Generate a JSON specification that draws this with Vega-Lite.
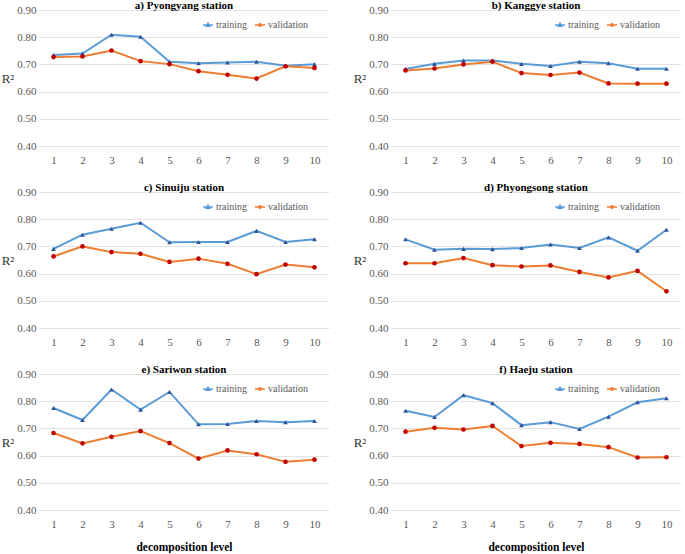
{
  "$schema": "https://vega.github.io/schema/vega-lite/v6.json",
  "padding": {"left": 1, "top": 0, "right": 1, "bottom": 0},
  "background": "white",
  "datasets": {
    "d": [
      {"st":"a","l":1,"training":0.735,"validation":0.727},
      {"st":"a","l":2,"training":0.740,"validation":0.729},
      {"st":"a","l":3,"training":0.809,"validation":0.751},
      {"st":"a","l":4,"training":0.802,"validation":0.712},
      {"st":"a","l":5,"training":0.710,"validation":0.701},
      {"st":"a","l":6,"training":0.704,"validation":0.675},
      {"st":"a","l":7,"training":0.707,"validation":0.662},
      {"st":"a","l":8,"training":0.710,"validation":0.648},
      {"st":"a","l":9,"training":0.695,"validation":0.693},
      {"st":"a","l":10,"training":0.701,"validation":0.687},
      {"st":"b","l":1,"training":0.683,"validation":0.678},
      {"st":"b","l":2,"training":0.702,"validation":0.685},
      {"st":"b","l":3,"training":0.714,"validation":0.700},
      {"st":"b","l":4,"training":0.714,"validation":0.710},
      {"st":"b","l":5,"training":0.702,"validation":0.668},
      {"st":"b","l":6,"training":0.694,"validation":0.661},
      {"st":"b","l":7,"training":0.710,"validation":0.670},
      {"st":"b","l":8,"training":0.704,"validation":0.630},
      {"st":"b","l":9,"training":0.684,"validation":0.629},
      {"st":"b","l":10,"training":0.684,"validation":0.629},
      {"st":"c","l":1,"training":0.691,"validation":0.663},
      {"st":"c","l":2,"training":0.743,"validation":0.700},
      {"st":"c","l":3,"training":0.765,"validation":0.679},
      {"st":"c","l":4,"training":0.787,"validation":0.673},
      {"st":"c","l":5,"training":0.715,"validation":0.643},
      {"st":"c","l":6,"training":0.716,"validation":0.655},
      {"st":"c","l":7,"training":0.716,"validation":0.636},
      {"st":"c","l":8,"training":0.757,"validation":0.598},
      {"st":"c","l":9,"training":0.716,"validation":0.633},
      {"st":"c","l":10,"training":0.726,"validation":0.623},
      {"st":"d","l":1,"training":0.726,"validation":0.638},
      {"st":"d","l":2,"training":0.688,"validation":0.638},
      {"st":"d","l":3,"training":0.691,"validation":0.657},
      {"st":"d","l":4,"training":0.690,"validation":0.631},
      {"st":"d","l":5,"training":0.694,"validation":0.626},
      {"st":"d","l":6,"training":0.707,"validation":0.630},
      {"st":"d","l":7,"training":0.694,"validation":0.606},
      {"st":"d","l":8,"training":0.733,"validation":0.586},
      {"st":"d","l":9,"training":0.684,"validation":0.610},
      {"st":"d","l":10,"training":0.761,"validation":0.535},
      {"st":"e","l":1,"training":0.775,"validation":0.683},
      {"st":"e","l":2,"training":0.731,"validation":0.645},
      {"st":"e","l":3,"training":0.843,"validation":0.669},
      {"st":"e","l":4,"training":0.769,"validation":0.690},
      {"st":"e","l":5,"training":0.834,"validation":0.646},
      {"st":"e","l":6,"training":0.715,"validation":0.589},
      {"st":"e","l":7,"training":0.716,"validation":0.619},
      {"st":"e","l":8,"training":0.727,"validation":0.605},
      {"st":"e","l":9,"training":0.723,"validation":0.577},
      {"st":"e","l":10,"training":0.727,"validation":0.585},
      {"st":"f","l":1,"training":0.765,"validation":0.688},
      {"st":"f","l":2,"training":0.742,"validation":0.702},
      {"st":"f","l":3,"training":0.822,"validation":0.696},
      {"st":"f","l":4,"training":0.793,"validation":0.709},
      {"st":"f","l":5,"training":0.712,"validation":0.635},
      {"st":"f","l":6,"training":0.723,"validation":0.647},
      {"st":"f","l":7,"training":0.698,"validation":0.643},
      {"st":"f","l":8,"training":0.743,"validation":0.631},
      {"st":"f","l":9,"training":0.796,"validation":0.593},
      {"st":"f","l":10,"training":0.811,"validation":0.594}
    ]
  },
  "data": {"name": "d"},
  "transform": [{"fold": ["training", "validation"], "as": ["s", "r2"]}],
  "columns": 2,
  "spacing": {"row": 17, "column": 24},
  "resolve": {"scale": {"color": "independent"}, "legend": {"color": "independent"}},
  "concat": [
    {
      "title": "a) Pyongyang station",
      "width": 290, "height": 136,
      "transform": [{"filter": "datum.st === 'a'"}],
      "encoding": {
        "x": {"field": "l", "type": "ordinal", "scale": {"padding": 0.5}, "axis": {"title": null}},
        "y": {"field": "r2", "type": "quantitative", "scale": {"domain": [0.4, 0.9], "nice": false, "zero": false}, "axis": {"title": "R²", "values": [0.4, 0.5, 0.6, 0.7, 0.8, 0.9], "format": ".2f"}}
      },
      "layer": [
        {"mark": {"type": "line", "strokeWidth": 2}, "encoding": {"color": {"field": "s", "type": "nominal", "scale": {"domain": ["training", "validation"], "range": ["#5B9BD5", "#ED7D31"]}, "legend": {"orient": "none", "legendX": 163, "legendY": 9, "direction": "horizontal", "title": null, "labelFont": "Liberation Serif", "labelFontSize": 10, "labelColor": "#595959", "symbolSize": 100, "labelOffset": 2, "columnPadding": 4, "encode": {"symbols": {"update": {"shape": {"signal": "datum.value === 'training' ? 'M-1,0H1M0,-0.36L0.36,0.26H-0.36Z' : 'M-1,0H1M0.25,0A0.25,0.25 0 1 1 -0.25,0A0.25,0.25 0 1 1 0.25,0Z'"}, "fill": {"signal": "datum.value === 'training' ? '#2F5597' : '#C00000'"}, "stroke": {"signal": "datum.value === 'training' ? '#5B9BD5' : '#ED7D31'"}, "strokeWidth": {"value": 1.5}, "size": {"value": 100}, "opacity": {"value": 1}}}}}}}},
        {"transform": [{"filter": "datum.s === 'training'"}], "mark": {"type": "point", "filled": true, "size": 22, "opacity": 1, "shape": "triangle-up", "color": "#2F5597"}},
        {"transform": [{"filter": "datum.s === 'validation'"}], "mark": {"type": "point", "filled": true, "size": 22, "opacity": 1, "shape": "circle", "color": "#C00000"}}
      ]
    },
    {
      "title": "b) Kanggye station",
      "width": 290, "height": 136,
      "transform": [{"filter": "datum.st === 'b'"}],
      "encoding": {
        "x": {"field": "l", "type": "ordinal", "scale": {"padding": 0.5}, "axis": {"title": null}},
        "y": {"field": "r2", "type": "quantitative", "scale": {"domain": [0.4, 0.9], "nice": false, "zero": false}, "axis": {"title": "R²", "values": [0.4, 0.5, 0.6, 0.7, 0.8, 0.9], "format": ".2f"}}
      },
      "layer": [
        {"mark": {"type": "line", "strokeWidth": 2}, "encoding": {"color": {"field": "s", "type": "nominal", "scale": {"domain": ["training", "validation"], "range": ["#5B9BD5", "#ED7D31"]}, "legend": {"orient": "none", "legendX": 163, "legendY": 9, "direction": "horizontal", "title": null, "labelFont": "Liberation Serif", "labelFontSize": 10, "labelColor": "#595959", "symbolSize": 100, "labelOffset": 2, "columnPadding": 4, "encode": {"symbols": {"update": {"shape": {"signal": "datum.value === 'training' ? 'M-1,0H1M0,-0.36L0.36,0.26H-0.36Z' : 'M-1,0H1M0.25,0A0.25,0.25 0 1 1 -0.25,0A0.25,0.25 0 1 1 0.25,0Z'"}, "fill": {"signal": "datum.value === 'training' ? '#2F5597' : '#C00000'"}, "stroke": {"signal": "datum.value === 'training' ? '#5B9BD5' : '#ED7D31'"}, "strokeWidth": {"value": 1.5}, "size": {"value": 100}, "opacity": {"value": 1}}}}}}}},
        {"transform": [{"filter": "datum.s === 'training'"}], "mark": {"type": "point", "filled": true, "size": 22, "opacity": 1, "shape": "triangle-up", "color": "#2F5597"}},
        {"transform": [{"filter": "datum.s === 'validation'"}], "mark": {"type": "point", "filled": true, "size": 22, "opacity": 1, "shape": "circle", "color": "#C00000"}}
      ]
    },
    {
      "title": "c) Sinuiju station",
      "width": 290, "height": 136,
      "transform": [{"filter": "datum.st === 'c'"}],
      "encoding": {
        "x": {"field": "l", "type": "ordinal", "scale": {"padding": 0.5}, "axis": {"title": null}},
        "y": {"field": "r2", "type": "quantitative", "scale": {"domain": [0.4, 0.9], "nice": false, "zero": false}, "axis": {"title": "R²", "values": [0.4, 0.5, 0.6, 0.7, 0.8, 0.9], "format": ".2f"}}
      },
      "layer": [
        {"mark": {"type": "line", "strokeWidth": 2}, "encoding": {"color": {"field": "s", "type": "nominal", "scale": {"domain": ["training", "validation"], "range": ["#5B9BD5", "#ED7D31"]}, "legend": {"orient": "none", "legendX": 163, "legendY": 9, "direction": "horizontal", "title": null, "labelFont": "Liberation Serif", "labelFontSize": 10, "labelColor": "#595959", "symbolSize": 100, "labelOffset": 2, "columnPadding": 4, "encode": {"symbols": {"update": {"shape": {"signal": "datum.value === 'training' ? 'M-1,0H1M0,-0.36L0.36,0.26H-0.36Z' : 'M-1,0H1M0.25,0A0.25,0.25 0 1 1 -0.25,0A0.25,0.25 0 1 1 0.25,0Z'"}, "fill": {"signal": "datum.value === 'training' ? '#2F5597' : '#C00000'"}, "stroke": {"signal": "datum.value === 'training' ? '#5B9BD5' : '#ED7D31'"}, "strokeWidth": {"value": 1.5}, "size": {"value": 100}, "opacity": {"value": 1}}}}}}}},
        {"transform": [{"filter": "datum.s === 'training'"}], "mark": {"type": "point", "filled": true, "size": 22, "opacity": 1, "shape": "triangle-up", "color": "#2F5597"}},
        {"transform": [{"filter": "datum.s === 'validation'"}], "mark": {"type": "point", "filled": true, "size": 22, "opacity": 1, "shape": "circle", "color": "#C00000"}}
      ]
    },
    {
      "title": "d) Phyongsong station",
      "width": 290, "height": 136,
      "transform": [{"filter": "datum.st === 'd'"}],
      "encoding": {
        "x": {"field": "l", "type": "ordinal", "scale": {"padding": 0.5}, "axis": {"title": null}},
        "y": {"field": "r2", "type": "quantitative", "scale": {"domain": [0.4, 0.9], "nice": false, "zero": false}, "axis": {"title": "R²", "values": [0.4, 0.5, 0.6, 0.7, 0.8, 0.9], "format": ".2f"}}
      },
      "layer": [
        {"mark": {"type": "line", "strokeWidth": 2}, "encoding": {"color": {"field": "s", "type": "nominal", "scale": {"domain": ["training", "validation"], "range": ["#5B9BD5", "#ED7D31"]}, "legend": {"orient": "none", "legendX": 163, "legendY": 9, "direction": "horizontal", "title": null, "labelFont": "Liberation Serif", "labelFontSize": 10, "labelColor": "#595959", "symbolSize": 100, "labelOffset": 2, "columnPadding": 4, "encode": {"symbols": {"update": {"shape": {"signal": "datum.value === 'training' ? 'M-1,0H1M0,-0.36L0.36,0.26H-0.36Z' : 'M-1,0H1M0.25,0A0.25,0.25 0 1 1 -0.25,0A0.25,0.25 0 1 1 0.25,0Z'"}, "fill": {"signal": "datum.value === 'training' ? '#2F5597' : '#C00000'"}, "stroke": {"signal": "datum.value === 'training' ? '#5B9BD5' : '#ED7D31'"}, "strokeWidth": {"value": 1.5}, "size": {"value": 100}, "opacity": {"value": 1}}}}}}}},
        {"transform": [{"filter": "datum.s === 'training'"}], "mark": {"type": "point", "filled": true, "size": 22, "opacity": 1, "shape": "triangle-up", "color": "#2F5597"}},
        {"transform": [{"filter": "datum.s === 'validation'"}], "mark": {"type": "point", "filled": true, "size": 22, "opacity": 1, "shape": "circle", "color": "#C00000"}}
      ]
    },
    {
      "title": "e) Sariwon station",
      "width": 290, "height": 136,
      "transform": [{"filter": "datum.st === 'e'"}],
      "encoding": {
        "x": {"field": "l", "type": "ordinal", "scale": {"padding": 0.5}, "axis": {"title": "decomposition level"}},
        "y": {"field": "r2", "type": "quantitative", "scale": {"domain": [0.4, 0.9], "nice": false, "zero": false}, "axis": {"title": "R²", "values": [0.4, 0.5, 0.6, 0.7, 0.8, 0.9], "format": ".2f"}}
      },
      "layer": [
        {"mark": {"type": "line", "strokeWidth": 2}, "encoding": {"color": {"field": "s", "type": "nominal", "scale": {"domain": ["training", "validation"], "range": ["#5B9BD5", "#ED7D31"]}, "legend": {"orient": "none", "legendX": 163, "legendY": 9, "direction": "horizontal", "title": null, "labelFont": "Liberation Serif", "labelFontSize": 10, "labelColor": "#595959", "symbolSize": 100, "labelOffset": 2, "columnPadding": 4, "encode": {"symbols": {"update": {"shape": {"signal": "datum.value === 'training' ? 'M-1,0H1M0,-0.36L0.36,0.26H-0.36Z' : 'M-1,0H1M0.25,0A0.25,0.25 0 1 1 -0.25,0A0.25,0.25 0 1 1 0.25,0Z'"}, "fill": {"signal": "datum.value === 'training' ? '#2F5597' : '#C00000'"}, "stroke": {"signal": "datum.value === 'training' ? '#5B9BD5' : '#ED7D31'"}, "strokeWidth": {"value": 1.5}, "size": {"value": 100}, "opacity": {"value": 1}}}}}}}},
        {"transform": [{"filter": "datum.s === 'training'"}], "mark": {"type": "point", "filled": true, "size": 22, "opacity": 1, "shape": "triangle-up", "color": "#2F5597"}},
        {"transform": [{"filter": "datum.s === 'validation'"}], "mark": {"type": "point", "filled": true, "size": 22, "opacity": 1, "shape": "circle", "color": "#C00000"}}
      ]
    },
    {
      "title": "f) Haeju station",
      "width": 290, "height": 136,
      "transform": [{"filter": "datum.st === 'f'"}],
      "encoding": {
        "x": {"field": "l", "type": "ordinal", "scale": {"padding": 0.5}, "axis": {"title": "decomposition level"}},
        "y": {"field": "r2", "type": "quantitative", "scale": {"domain": [0.4, 0.9], "nice": false, "zero": false}, "axis": {"title": "R²", "values": [0.4, 0.5, 0.6, 0.7, 0.8, 0.9], "format": ".2f"}}
      },
      "layer": [
        {"mark": {"type": "line", "strokeWidth": 2}, "encoding": {"color": {"field": "s", "type": "nominal", "scale": {"domain": ["training", "validation"], "range": ["#5B9BD5", "#ED7D31"]}, "legend": {"orient": "none", "legendX": 163, "legendY": 9, "direction": "horizontal", "title": null, "labelFont": "Liberation Serif", "labelFontSize": 10, "labelColor": "#595959", "symbolSize": 100, "labelOffset": 2, "columnPadding": 4, "encode": {"symbols": {"update": {"shape": {"signal": "datum.value === 'training' ? 'M-1,0H1M0,-0.36L0.36,0.26H-0.36Z' : 'M-1,0H1M0.25,0A0.25,0.25 0 1 1 -0.25,0A0.25,0.25 0 1 1 0.25,0Z'"}, "fill": {"signal": "datum.value === 'training' ? '#2F5597' : '#C00000'"}, "stroke": {"signal": "datum.value === 'training' ? '#5B9BD5' : '#ED7D31'"}, "strokeWidth": {"value": 1.5}, "size": {"value": 100}, "opacity": {"value": 1}}}}}}}},
        {"transform": [{"filter": "datum.s === 'training'"}], "mark": {"type": "point", "filled": true, "size": 22, "opacity": 1, "shape": "triangle-up", "color": "#2F5597"}},
        {"transform": [{"filter": "datum.s === 'validation'"}], "mark": {"type": "point", "filled": true, "size": 22, "opacity": 1, "shape": "circle", "color": "#C00000"}}
      ]
    }
  ],
  "config": {
    "view": {"stroke": null},
    "font": "Liberation Serif",
    "axis": {"labelFont": "Liberation Serif", "labelFontSize": 11, "labelColor": "#595959", "ticks": false, "domain": false, "gridColor": "#E4E4E4", "gridWidth": 1, "titleFont": "Liberation Serif"},
    "axisX": {"grid": false, "labelAngle": 0, "labelPadding": 8, "labelFont": "Liberation Serif", "titleFontSize": 11.5, "titleFontWeight": "bold", "titleColor": "#000000", "titlePadding": 12},
    "axisY": {"labelPadding": 3, "labelFont": "Liberation Serif", "titleAngle": 0, "titleAlign": "right", "titleBaseline": "middle", "titleFontSize": 13, "titleFontWeight": "normal", "titleColor": "#333333", "titlePadding": 3},
    "title": {"font": "Liberation Serif", "fontSize": 11, "fontWeight": "bold", "color": "#000000", "offset": -7, "baseline": "alphabetic", "anchor": "middle"}
  }
}
